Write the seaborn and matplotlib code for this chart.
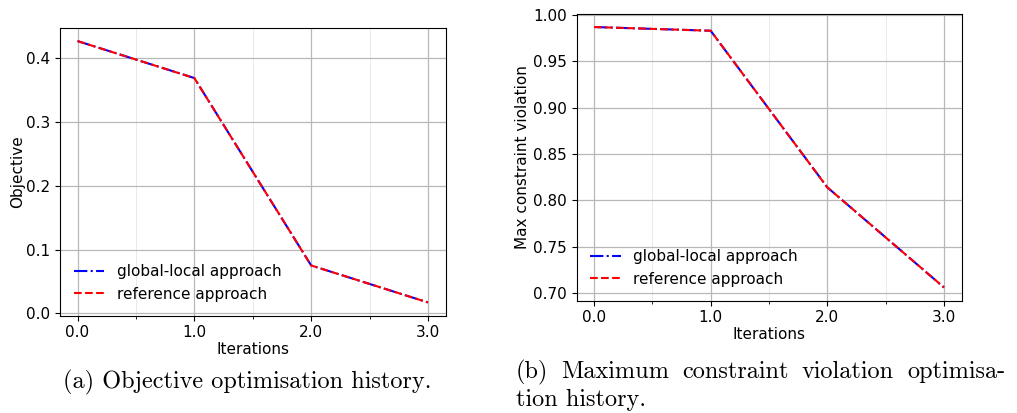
import matplotlib
matplotlib.use("Agg")
import matplotlib.pyplot as plt
import matplotlib.ticker as mticker
import numpy as np
import pandas as pd
import seaborn as sns

# Optimisation history data
iterations = [0, 1, 2, 3]
objective_global_local = [0.427, 0.369, 0.075, 0.017]
objective_reference = [0.427, 0.369, 0.075, 0.017]
violation_global_local = [0.987, 0.983, 0.814, 0.706]
violation_reference = [0.987, 0.983, 0.814, 0.706]

series_labels = ["global-local approach", "reference approach"]
x_label = "Iterations"
caption_a = "(a) Objective optimisation history."
caption_b_line1 = "(b) Maximum constraint violation optimisa-"
caption_b_line2 = "tion history."

plt.rcParams["font.family"] = ["DejaVu Sans"]
plt.rcParams["font.size"] = 11

W, H = 1017, 413
fig = plt.figure(figsize=(W / 100, H / 100), dpi=100)


def px_axes(x0, y0, x1, y1):
    return fig.add_axes([x0 / W, 1 - y1 / H, (x1 - x0) / W, (y1 - y0) / H])


ax_a = px_axes(60, 28, 445.5, 315.5)
ax_b = px_axes(576.5, 14, 961.5, 300.5)


def draw_panel(ax, gl, ref, ylabel, yfmt, ypad):
    df = pd.DataFrame({"it": iterations, "gl": gl, "ref": ref})
    sns.lineplot(data=df, x="it", y="gl", ax=ax, color="blue",
                 linestyle="-.", linewidth=1.5, label=series_labels[0])
    sns.lineplot(data=df, x="it", y="ref", ax=ax, color="red",
                 linestyle="--", linewidth=1.5, label=series_labels[1])
    ax.set_xlabel(x_label, fontsize=11, labelpad=1.5)
    ax.set_ylabel(ylabel, fontsize=11, labelpad=ypad)
    ax.tick_params(labelsize=11)
    ax.xaxis.set_major_locator(mticker.MultipleLocator(1.0))
    ax.xaxis.set_minor_locator(mticker.MultipleLocator(0.5))
    ax.xaxis.set_major_formatter(mticker.FormatStrFormatter("%.1f"))
    ax.yaxis.set_major_formatter(mticker.FormatStrFormatter(yfmt))
    ax.grid(True, which="major", color="#b8b8b8", linewidth=0.9)
    ax.grid(True, which="minor", axis="x", color="#b0b0b0", linewidth=0.6,
            alpha=0.3)
    ax.set_axisbelow(True)
    ax.legend(loc="lower left", frameon=False, fontsize=11)


draw_panel(ax_a, objective_global_local, objective_reference, "Objective",
           "%.1f", 1.0)
ax_a.yaxis.set_major_locator(mticker.MultipleLocator(0.1))
draw_panel(ax_b, violation_global_local, violation_reference,
           "Max constraint violation", "%.2f", 2.0)
ax_b.yaxis.set_major_locator(mticker.MultipleLocator(0.05))

# Sub-figure captions
cap_font = dict(family="cmr10", size=17.5, color="black")
fig.text(247 / W, 1 - 388 / H, caption_a, ha="center", va="baseline", **cap_font)

# Justified first line of caption (b)
renderer = fig.canvas.get_renderer()
words = caption_b_line1.split(" ")
left_px, right_px = 516, 1005
word_texts = [fig.text(0, 1 - 378 / H, w, ha="left", va="baseline", **cap_font)
              for w in words]
widths = [t.get_window_extent(renderer).width for t in word_texts]
gap = (right_px - left_px - sum(widths)) / (len(words) - 1)
xpos = left_px
for t, wd in zip(word_texts, widths):
    t.set_x(xpos / W)
    xpos += wd + gap
fig.text(left_px / W, 1 - 406 / H, caption_b_line2, ha="left", va="baseline",
         **cap_font)

fig.savefig("out.png", dpi=100)
